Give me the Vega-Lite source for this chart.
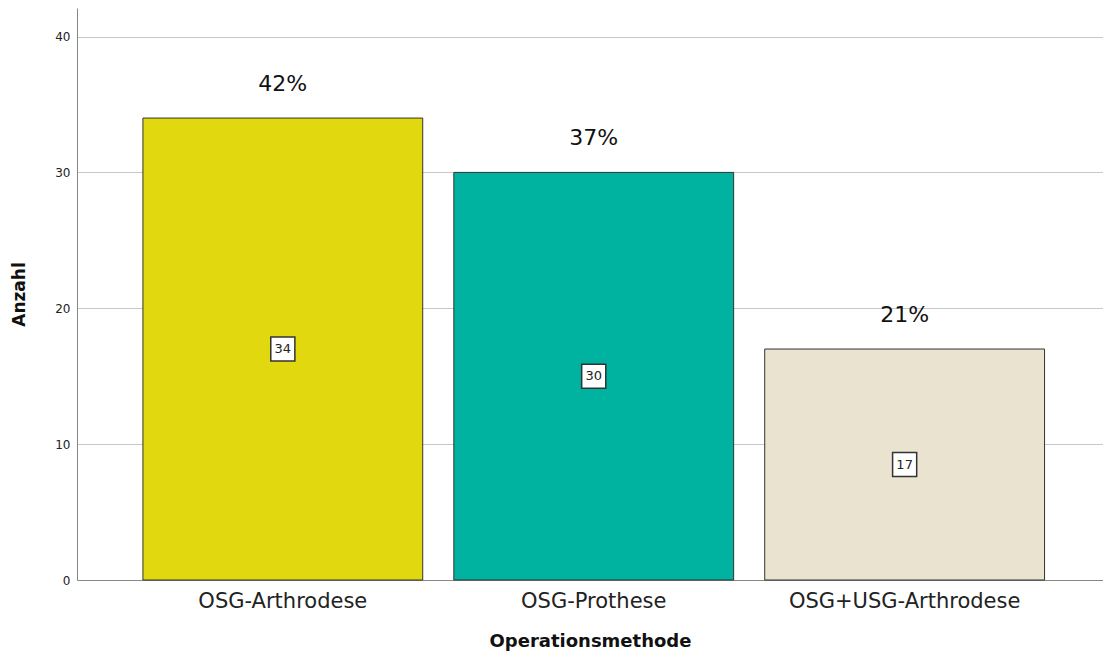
{
  "$schema": "https://vega.github.io/schema/vega-lite/v6.json",
  "autosize": "none",
  "width": 1026,
  "height": 572,
  "padding": {"left": 77, "top": 8, "right": 0, "bottom": 74},
  "background": "white",
  "config": {
    "view": {"stroke": null},
    "font": "DejaVu Sans"
  },
  "data": {
    "values": [
      {"methode": "OSG-Arthrodese", "anzahl": 34, "prozent": "42%"},
      {"methode": "OSG-Prothese", "anzahl": 30, "prozent": "37%"},
      {"methode": "OSG+USG-Arthrodese", "anzahl": 17, "prozent": "21%"}
    ]
  },
  "encoding": {
    "x": {
      "field": "methode",
      "type": "nominal",
      "sort": null,
      "scale": {"paddingInner": 0.1, "paddingOuter": 0.2, "align": 0.53},
      "axis": {
        "title": "Operationsmethode",
        "labelAngle": 0,
        "labelFontSize": 21,
        "labelLimit": 400,
        "labelColor": "#222",
        "labelPadding": 10,
        "ticks": false,
        "domainColor": "#888",
        "titleFontSize": 18,
        "titleFontWeight": "bold",
        "titleColor": "#111",
        "titlePadding": 21
      }
    }
  },
  "layer": [
    {
      "mark": {"type": "bar", "stroke": "#333", "strokeWidth": 1},
      "encoding": {
        "y": {
          "field": "anzahl",
          "type": "quantitative",
          "scale": {"domain": [0, 42.1], "nice": false},
          "axis": {
            "title": "Anzahl",
            "values": [0, 10, 20, 30, 40],
            "ticks": false,
            "labelFontSize": 12,
            "labelColor": "#222",
            "labelPadding": 7,
            "gridColor": "#c8c8c8",
            "domainColor": "#888",
            "titleFontSize": 17,
            "titleFontWeight": "bold",
            "titleColor": "#111",
            "titlePadding": 26
          }
        },
        "color": {
          "field": "methode",
          "type": "nominal",
          "sort": null,
          "scale": {"range": ["#E2D80F", "#00B2A0", "#E9E3CF"]},
          "legend": null
        }
      }
    },
    {
      "mark": {"type": "text", "fontSize": 22, "dy": -34, "baseline": "middle", "color": "#111"},
      "encoding": {
        "y": {"field": "anzahl", "type": "quantitative", "scale": {"domain": [0, 42.1], "nice": false}, "axis": null},
        "text": {"field": "prozent"}
      }
    },
    {
      "mark": {"type": "point", "shape": "square", "size": 580, "filled": true, "fill": "white", "stroke": "#333", "strokeWidth": 1.5, "opacity": 1},
      "encoding": {
        "y": {"field": "anzahl", "type": "quantitative", "scale": {"domain": [0, 84.2], "nice": false, "zero": true}, "axis": null}
      }
    },
    {
      "mark": {"type": "text", "fontSize": 13, "baseline": "middle", "color": "#222"},
      "encoding": {
        "y": {"field": "anzahl", "type": "quantitative", "scale": {"domain": [0, 84.2], "nice": false, "zero": true}, "axis": null},
        "text": {"field": "anzahl"}
      }
    }
  ],
  "resolve": {"scale": {"y": "independent", "color": "independent"}}
}
